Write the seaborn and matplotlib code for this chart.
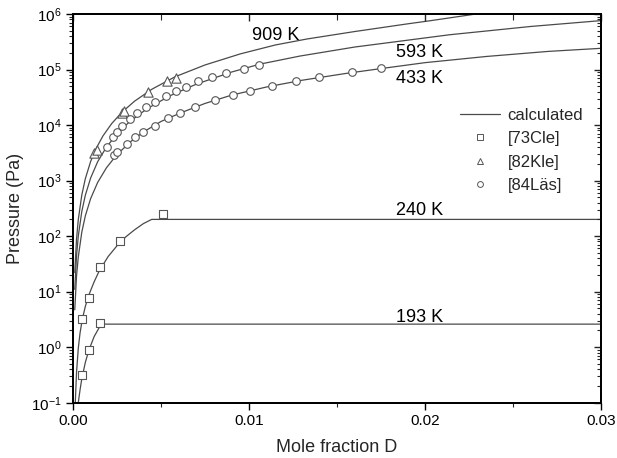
import numpy as np
import pandas as pd
import matplotlib
matplotlib.use("Agg")
import matplotlib.pyplot as plt
import seaborn as sns
from matplotlib.lines import Line2D
from matplotlib.ticker import FixedLocator, LogFormatterSciNotation, NullFormatter

# ---------------- data ----------------
# calculated curves
x_909 = [0.0001, 0.0002, 0.0003, 0.0005, 0.0007, 0.001, 0.0013, 0.0017, 0.0022, 0.0028,
         0.0035, 0.0045, 0.0058, 0.0075, 0.0095, 0.0115, 0.0133, 0.016, 0.019, 0.0203, 0.0229, 0.025]
p_909 = [22, 88, 198, 550, 1080, 2200, 3720, 6360, 10650, 17250,
         26950, 44550, 74000, 120800, 191000, 277000, 355000, 483000, 664000, 757000, 1000000, 1180000]

x_593 = [0.0001, 0.0002, 0.0003, 0.0005, 0.0007, 0.001, 0.0014, 0.0019, 0.0025, 0.0032,
         0.0042, 0.0055, 0.007, 0.009, 0.0106, 0.0129, 0.016, 0.0214, 0.026, 0.03]
p_593 = [11, 44, 100, 278, 544, 1110, 2180, 4010, 6940, 11400,
         19600, 33600, 54400, 89900, 124700, 175000, 254000, 423000, 596000, 760000]

x_433 = [0.0001, 0.0002, 0.0003, 0.0005, 0.0007, 0.001, 0.0014, 0.0019, 0.0025, 0.0033,
         0.004, 0.005, 0.0061, 0.0075, 0.009, 0.011, 0.013, 0.0155, 0.0175, 0.02, 0.0235, 0.027, 0.03]
p_433 = [4.7, 19, 42, 118, 231, 472, 925, 1700, 2950, 5100,
         7500, 11600, 16500, 24500, 34500, 48500, 64000, 85000, 104000, 133000, 172000, 212000, 241000]

x_240 = [0.00013, 0.0002, 0.0003, 0.0004, 0.00053, 0.0007, 0.0009, 0.0012, 0.0015, 0.002,
         0.0025, 0.003, 0.0035, 0.004, 0.00447, 0.03]
p_240 = [0.1, 0.35, 0.95, 1.8, 3.2, 5.4, 8.7, 15, 24, 43, 67, 97, 130, 168, 200, 200]

x_193 = [0.0003, 0.0004, 0.0005, 0.0007, 0.0009, 0.0012, 0.0016, 0.03]
p_193 = [0.1, 0.17, 0.27, 0.53, 0.88, 1.55, 2.6, 2.6]

# measured data
cle73_x = [0.00053, 0.00091, 0.00155, 0.00267, 0.00511, 0.00053, 0.00091, 0.00155]
cle73_p = [3.2, 7.6, 28, 82, 252, 0.32, 0.90, 2.67]

kle82_x = [0.00117, 0.00136, 0.00277, 0.00292, 0.00428, 0.00532, 0.00584]
kle82_p = [3170, 3590, 16300, 18100, 39800, 62100, 71100]

las84_x = [0.00191, 0.00225, 0.00252, 0.00280, 0.00324, 0.00365, 0.00415, 0.00464,
           0.00528, 0.00584, 0.00640, 0.00712, 0.00790, 0.00868, 0.00972, 0.01059,
           0.00232, 0.00252, 0.00309, 0.00354, 0.00399, 0.00466, 0.00538, 0.00608,
           0.00693, 0.00807, 0.00909, 0.01007, 0.01132, 0.01265, 0.01396, 0.01584, 0.01748]
las84_p = [4060, 6000, 7590, 9730, 12800, 16300, 20800, 26300,
           33300, 41500, 48400, 61200, 72300, 86500, 102000, 122000,
           2850, 3300, 4550, 6000, 7590, 9730, 13200, 16400,
           21400, 28200, 34700, 41500, 50400, 61200, 74100, 89100, 108000]

curve_labels = ["909 K", "593 K", "433 K", "240 K", "193 K"]
label_x = [0.01151, 0.01969, 0.01969, 0.01969, 0.01969]
label_p = [3.40e5, 1.68e5, 5.71e4, 239, 2.82]

legend_labels = ["calculated", "[73Cle]", "[82Kle]", "[84Läs]"]

x_ticks = [0.0, 0.01, 0.02, 0.03]
x_tick_labels = ["0.00", "0.01", "0.02", "0.03"]
x_minor = [0.005, 0.015, 0.025]
y_decades = [1e-1, 1e0, 1e1, 1e2, 1e3, 1e4, 1e5, 1e6]

# ---------------- style ----------------
sns.set_theme(style="ticks")
plt.rcParams["font.family"] = ["Liberation Sans", "DejaVu Sans"]
plt.rcParams["mathtext.fontset"] = "custom"
plt.rcParams["mathtext.rm"] = "Liberation Sans"
plt.rcParams["mathtext.it"] = "Liberation Sans:italic"

LINE_C = "#4a4a4a"
MARK_C = "#555555"

y_minor = [d * m for d in y_decades[:-1] for m in range(2, 10)]

fig = plt.figure(figsize=(6.17, 4.58), dpi=100)
ax = fig.add_axes([73 / 617, 1 - 402.7 / 458, (601 - 73) / 617, (402.7 - 14) / 458])
ax.set_yscale("log")

curves = [(x_909, p_909), (x_593, p_593), (x_433, p_433), (x_240, p_240), (x_193, p_193)]
for cx, cp in curves:
    df = pd.DataFrame({"x": cx, "p": cp})
    sns.lineplot(data=df, x="x", y="p", ax=ax, sort=False, estimator=None,
                 color=LINE_C, linewidth=0.9)

sns.scatterplot(x=cle73_x, y=cle73_p, ax=ax, marker="s", s=26, facecolor="white",
                edgecolor=MARK_C, linewidth=0.8, zorder=3)
sns.scatterplot(x=kle82_x, y=kle82_p, ax=ax, marker="^", s=45, facecolor="white",
                edgecolor=MARK_C, linewidth=0.8, zorder=3)
sns.scatterplot(x=las84_x, y=las84_p, ax=ax, marker="o", s=30, facecolor="white",
                edgecolor=MARK_C, linewidth=0.8, zorder=3)

for t, lx, lp in zip(curve_labels, label_x, label_p):
    ax.text(lx, lp, t, ha="center", va="baseline", fontsize=13, color="black")

ax.set_xlim(0, 0.03)
ax.set_ylim(0.1, 1e6)

ax.set_xlabel("Mole fraction D", fontsize=13, labelpad=8)
ax.set_ylabel("Pressure (Pa)", fontsize=13, labelpad=5)

# x ticks
ax.xaxis.set_major_locator(FixedLocator(x_ticks))
ax.set_xticklabels(x_tick_labels)
ax.xaxis.set_minor_locator(FixedLocator(x_minor))
# y ticks (only inside the view range)
ax.yaxis.set_major_locator(FixedLocator(y_decades))
ax.yaxis.set_major_formatter(LogFormatterSciNotation())
ax.yaxis.set_minor_locator(FixedLocator(y_minor))
ax.yaxis.set_minor_formatter(NullFormatter())

ax.tick_params(axis="both", which="major", direction="out", length=5, width=1.0,
               labelsize=11, colors="black", pad=3)
ax.tick_params(axis="both", which="minor", direction="out", length=3, width=0.8)
ax.tick_params(top=False, right=False)

for sp in ax.spines.values():
    sp.set_linewidth(1.2)
    sp.set_color("black")

# mirrored inward ticks on top and right
axt = ax.twiny()
axt.set_xlim(ax.get_xlim())
axt.xaxis.set_major_locator(FixedLocator(x_ticks))
axt.xaxis.set_minor_locator(FixedLocator(x_minor))
axt.tick_params(axis="x", which="major", direction="in", length=5, width=1.0, labeltop=False)
axt.tick_params(axis="x", which="minor", direction="in", length=4, width=0.8)
axr = ax.twinx()
axr.set_yscale("log")
axr.set_ylim(ax.get_ylim())
axr.yaxis.set_major_locator(FixedLocator(y_decades))
axr.yaxis.set_minor_locator(FixedLocator(y_minor))
axr.yaxis.set_minor_formatter(NullFormatter())
axr.tick_params(axis="y", which="major", direction="in", length=5, width=1.0, labelright=False)
axr.tick_params(axis="y", which="minor", direction="in", length=3, width=0.8)
for a in (axt, axr):
    for sp in a.spines.values():
        sp.set_linewidth(1.2)
        sp.set_color("black")
axt.yaxis.set_visible(False)
axr.xaxis.set_visible(False)

handles = [
    Line2D([], [], color=LINE_C, linewidth=0.9),
    Line2D([], [], linestyle="none", marker="s", markersize=3.8, markerfacecolor="white",
           markeredgecolor=MARK_C, markeredgewidth=0.7),
    Line2D([], [], linestyle="none", marker="^", markersize=4.5, markerfacecolor="white",
           markeredgecolor=MARK_C, markeredgewidth=0.7),
    Line2D([], [], linestyle="none", marker="o", markersize=4.2, markerfacecolor="white",
           markeredgecolor=MARK_C, markeredgewidth=0.7),
]
ax.legend(handles, legend_labels, loc="upper left",
          bbox_to_anchor=(460 / 617, 1 - 108 / 458), bbox_transform=fig.transFigure,
          frameon=False, fontsize=12, handlelength=2.4, handletextpad=0.45,
          labelspacing=0.5, borderpad=0, borderaxespad=0)

fig.savefig("out.png", dpi=100)
